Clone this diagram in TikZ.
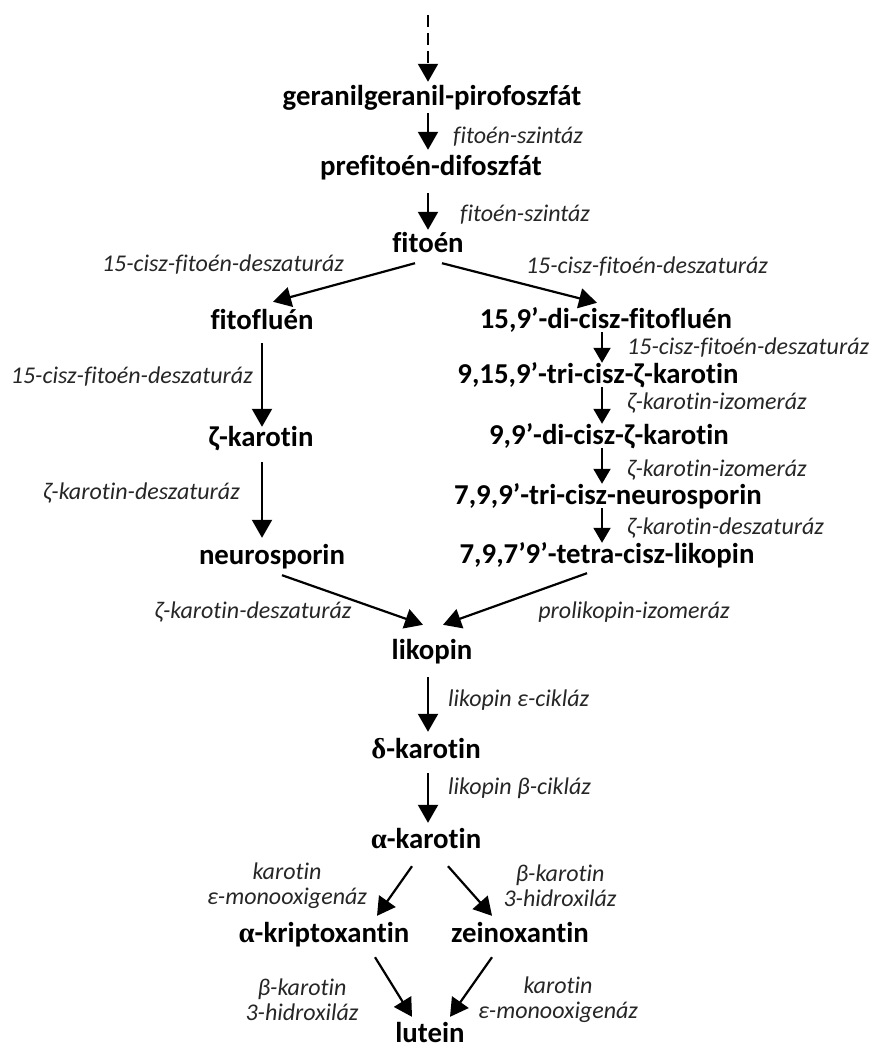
\documentclass[tikz,border=0pt]{standalone}
\usepackage{fontspec}
\setmainfont{Carlito}[Ligatures=NoCommon]
\newfontfamily\grk{Liberation Serif}
\usetikzlibrary{arrows.meta, calc}
\tikzset{
    mol/.style={font=\bfseries\fontsize{28.8}{32}\selectfont, inner sep=0pt, text height=16pt, text depth=4pt},
    enz/.style={font=\itshape\fontsize{24}{25}\selectfont, inner sep=0pt, text=black!85, align=center},
    arr/.style={line width=2.2pt, -{Triangle[length=18pt, width=20pt]}},
    arrs/.style={line width=2pt, -{Triangle[length=15pt, width=17pt]}, shorten <=0pt, shorten >=4pt}
}
\begin{document}
\begin{tikzpicture}[x=1pt, y=-1pt]
        \useasboundingbox (0,0) rectangle (874,1048);
        % main column
        \coordinate (top) at (428,15);
        \draw (432,100) node[mol, name=ggpp]{geranilgeranil-pirofoszfát};
        \draw (431,170) node[mol, name=pfdp]{prefitoén-difoszfát};
        \draw (428,247) node[mol, name=fitoen]{fitoén};
        \draw[arr, dash pattern=on 12pt off 6pt] (top) -- ([yshift=8pt]ggpp.north -| top);
        \draw[arr, shorten <=3pt, shorten >=10pt] (ggpp.south -| top) -- (pfdp.north -| top);
        \draw[arr, shorten <=13pt, shorten >=7pt] (pfdp.south -| top) -- (fitoen.north -| top);
        \draw (453,137) node[enz, anchor=west, name=sz1]{fitoén-szintáz};
        \draw (460,215) node[enz, anchor=west, name=sz2]{fitoén-szintáz};
        % left branch
        \draw (262,323) node[mol, name=fitofl]{fitofluén};
        \draw (261,440) node[mol, name=zetak]{ζ-karotin};
        \draw (272,558) node[mol, name=neuro]{neurosporin};
        \draw[arr] ($(fitoen.south)+(-13,6)$) -- ($(fitofl.north)+(11,-11)$);
        \draw[arr, shorten <=10pt, shorten >=3pt] (fitofl.south) -- (zetak.north -| fitofl);
        \draw[arr, shorten <=12pt, shorten >=10pt] (zetak.south -| fitofl) -- (neuro.north -| fitofl);
        \draw (223,265) node[enz, name=ds1]{15-cisz-fitoén-deszaturáz};
        \draw (253,377) node[enz, anchor=east, name=ds2]{15-cisz-fitoén-deszaturáz};
        \draw (240,493) node[enz, anchor=east, name=zd1]{ζ-karotin-deszaturáz};
        % right branch
        \coordinate (rcol) at (602,0);
        \draw (606,322) node[mol, name=dfitofl]{15,9’-di-cisz-fitofluén};
        \draw (598,377) node[mol, name=tzk]{9,15,9’-tri-cisz-ζ-karotin};
        \draw (609,438) node[mol, name=dzk]{9,9’-di-cisz-ζ-karotin};
        \draw (608,498) node[mol, name=tneuro]{7,9,9’-tri-cisz-neurosporin};
        \draw (607,557) node[mol, name=tlik]{7,9,7’9’-tetra-cisz-likopin};
        \draw[arr] ($(fitoen.south)+(14,6)$) -- ($(dfitofl.north)+(-9,-9)$);
        \draw[arrs] (dfitofl.south -| rcol) -- (tzk.north -| rcol);
        \draw[arrs] (tzk.south -| rcol) -- (dzk.north -| rcol);
        \draw[arrs] (dzk.south -| rcol) -- (tneuro.north -| rcol);
        \draw[arrs] (tneuro.south -| rcol) -- (tlik.north -| rcol);
        \draw (647,267) node[enz, name=ds3]{15-cisz-fitoén-deszaturáz};
        \draw (627,348) node[enz, anchor=west, name=ds4]{15-cisz-fitoén-deszaturáz};
        \draw (627,403) node[enz, anchor=west, name=zi1]{ζ-karotin-izomeráz};
        \draw (627,470) node[enz, anchor=west, name=zi2]{ζ-karotin-izomeráz};
        \draw (627,528) node[enz, anchor=west, name=zd2]{ζ-karotin-deszaturáz};
        % likopin and below
        \draw (432,653) node[mol, name=likopin]{likopin};
        \draw (426,752) node[mol, name=deltak]{{\grk δ}-karotin};
        \draw (426,842) node[mol, name=alfak]{{\grk α}-karotin};
        \draw[arr] ($(neuro.south)+(10,7)$) -- ($(likopin.north)+(-9,-18)$);
        \draw[arr] ($(tlik.south)+(-20,6)$) -- ($(likopin.north)+(11,-18)$);
        \draw[arr, shorten <=14pt, shorten >=10pt] (likopin.south -| top) -- (deltak.north -| top);
        \draw[arr, shorten <=11pt, shorten >=9pt] (deltak.south -| top) -- (alfak.north -| top);
        \draw (253,612) node[enz, name=zd3]{ζ-karotin-deszaturáz};
        \draw (634,612) node[enz, name=pi]{prolikopin-izomeráz};
        \draw (448,700) node[enz, anchor=west, name=ec]{likopin ε-cikláz};
        \draw (448,788) node[enz, anchor=west, name=bc]{likopin β-cikláz};
        % xanthophylls
        \draw (324,936) node[mol, name=krip]{{\grk α}-kriptoxantin};
        \draw (520,936) node[mol, name=zein]{zeinoxantin};
        \draw (430,1036) node[mol, name=lutein]{lutein};
        \draw[arr] ($(alfak.south)+(-14,14)$) -- ($(krip.north)+(53,-10)$);
        \draw[arr] ($(alfak.south)+(22,14)$) -- ($(zein.north)+(-28,-10)$);
        \draw[arr] ($(krip.south)+(51,11)$) -- ($(lutein.north)+(-18,-9)$);
        \draw[arr] ($(zein.south)+(-28,11)$) -- ($(lutein.north)+(20,-9)$);
        \draw (287,886) node[enz, name=em1]{karotin\\ε-monooxigenáz};
        \draw (560,886) node[enz, name=bh1]{β-karotin\\3-hidroxiláz};
        \draw (302,1000) node[enz, name=bh2]{β-karotin\\3-hidroxiláz};
        \draw (558,1000) node[enz, name=em2]{karotin\\ε-monooxigenáz};
\end{tikzpicture}
\end{document}
